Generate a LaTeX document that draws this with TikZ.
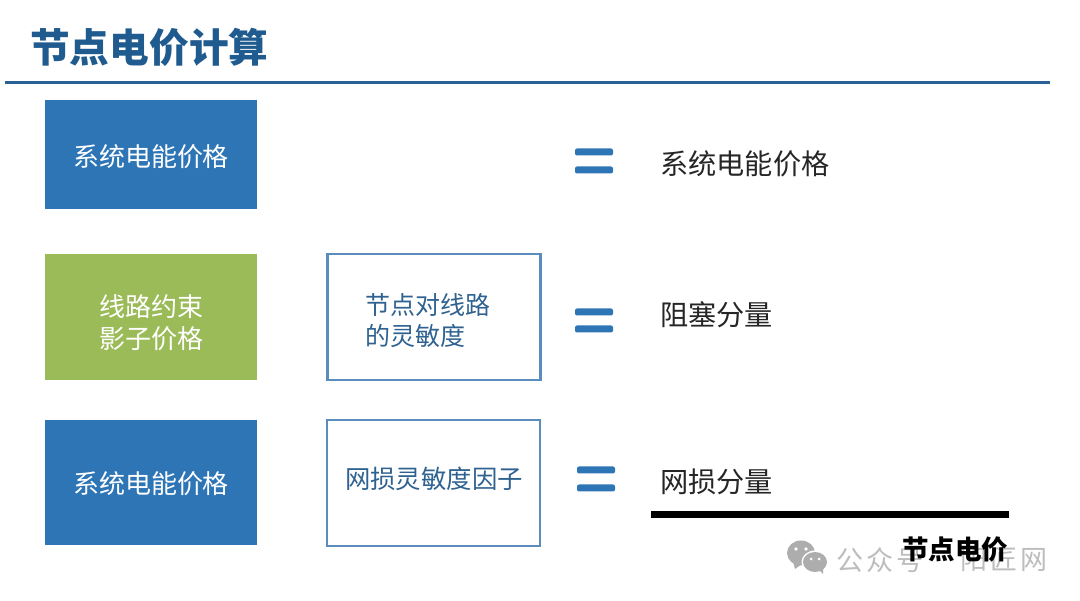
\documentclass[tikz,border=0pt]{standalone}
\usepackage{fontspec}
\setmainfont{Noto Sans CJK SC}
\definecolor{blueA}{HTML}{2E75B6}
\definecolor{greenA}{HTML}{9BBB59}
\definecolor{titleC}{HTML}{1F5B8E}
\definecolor{ruleC}{HTML}{2A6194}
\definecolor{edgeC}{HTML}{5B8CBE}
\definecolor{textB}{HTML}{2F6290}
\definecolor{rightT}{HTML}{262626}
\definecolor{markC}{HTML}{ADADAD}
\definecolor{markT}{HTML}{BDBDBD}
\tikzset{
 x=1pt,y=-1pt,
 solidbox/.style={minimum width=212pt,inner sep=0pt,anchor=north west,line width=0pt},
 solidtext/.style={text=white,font=\fontsize{26}{32}\selectfont,align=center,inner sep=0pt},
 outlinebox/.style={draw=edgeC,line width=2.4pt,fill=white,minimum width=213pt,inner sep=0pt,anchor=center},
 righttext/.style={text=rightT,font=\fontsize{28.2}{34}\selectfont,anchor=west,inner sep=0pt},
 eqbar/.style={fill=blueA,rounded corners=2pt},
 marktext/.style={anchor=west,inner sep=0pt,text=markT,font=\fontsize{27}{30}\selectfont\addfontfeature{LetterSpace=11}},
}
\begin{document}
\begin{tikzpicture}
\useasboundingbox (0,0) rectangle (1080,601);
\fill[white] (0,0) rectangle (1080,601);
\node[anchor=west,inner sep=0pt,text=titleC,font=\fontsize{39.7}{44}\selectfont\bfseries] (title) at (30,47) {节点电价计算};
\coordinate (ruleL) at (5,83);
\coordinate (ruleR) at (1050,83);
\draw[ruleC,line width=3pt] (ruleL) -- (ruleR);

\node[solidbox,fill=blueA,minimum height=109pt] (s1) at (45,100) {};
\node[solidtext] (s1t) at (151,157) {系统电能价格};
\node[solidbox,fill=greenA,minimum height=126pt] (s2) at (45,254) {};
\node[solidtext] (s2t) at (151,323) {线路约束\\影子价格};
\node[solidbox,fill=blueA,minimum height=125pt] (s3) at (45,420) {};
\node[solidtext] (s3t) at (151,484) {系统电能价格};

\node[outlinebox,minimum height=125.5pt] (o1) at (434,317) {};
\node[text=textB,font=\fontsize{25}{31}\selectfont,align=left,inner sep=0pt,anchor=west] (o1t) at (365,320.5) {节点对线路\\的灵敏度};
\node[outlinebox,minimum height=125.5pt] (o2) at (433.5,483) {};
\node[text=textB,font=\fontsize{25.4}{31}\selectfont,inner sep=0pt] (o2t) at (434,478.5) {网损灵敏度因子};

\fill[eqbar] (575,148.5) rectangle (613,155.5);
\fill[eqbar] (575,166.5) rectangle (613,173.5);
\fill[eqbar] (575,308.5) rectangle (613,315.5);
\fill[eqbar] (575,325.5) rectangle (613,332.5);
\fill[eqbar] (577,466.5) rectangle (615,473.5);
\fill[eqbar] (577,484.5) rectangle (615,491.5);

\node[righttext] (r1) at (660,164) {系统电能价格};
\node[righttext] (r2) at (660,315) {阻塞分量};
\node[righttext] (r3) at (660,482) {网损分量};
\coordinate (sumL) at (651,515);
\coordinate (sumR) at (1009,515);
\draw[black,line width=7pt] (sumL) -- (sumR);

% watermark
\fill[markC] (801,553) ellipse (14 and 12.5);
\fill[markC] (793,562) -- (795,569) -- (802,564) -- cycle;
\fill[white] (815,562) ellipse (13.5 and 11.5);
\fill[markC] (815,562) ellipse (12 and 10);
\fill[markC] (819,570) -- (823,574) -- (823,567) -- cycle;
\fill[white] (796,549) circle (1.8) (806,549) circle (1.8) (811,559) circle (1.5) (819,559) circle (1.5);
\node[marktext] (wm1) at (836,560) {公众号};
\node[marktext] (wm2) at (960,560) {阳匠网};
\node[anchor=west,inner sep=0pt,text=black,font=\fontsize{26.5}{32}\selectfont\bfseries] (lmp) at (902,550) {节点电价};
\end{tikzpicture}
\end{document}
